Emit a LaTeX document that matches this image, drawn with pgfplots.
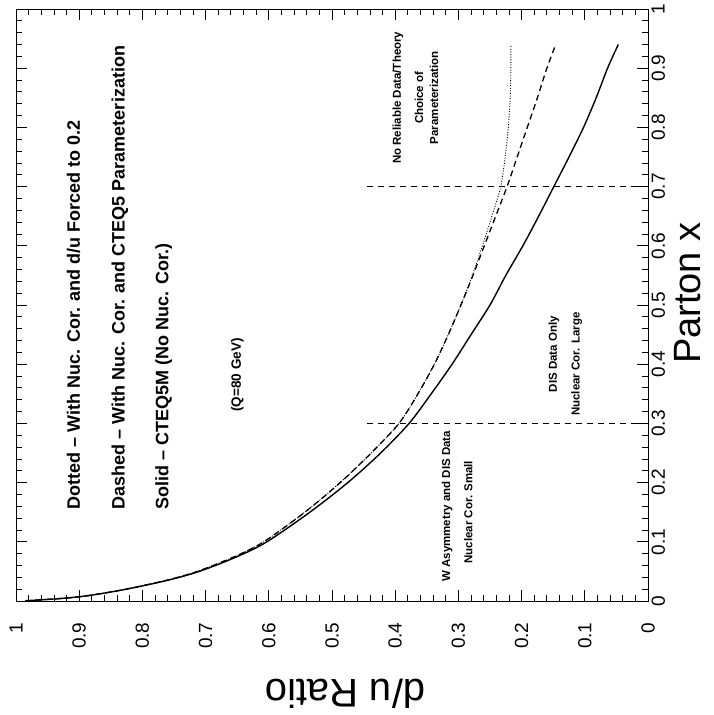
\documentclass[border=0pt]{standalone}
\usepackage{pgfplots}
\pgfplotsset{compat=1.18}
\usepackage{fontspec}
\setmainfont{Liberation Sans}
\begin{document}
\begin{tikzpicture}
\begin{axis}[
  width=632pt, height=592pt, scale only axis,
  x dir=reverse, xmin=0, xmax=1, ymin=0, ymax=1,
  xtick={0,0.1,0.2,0.3,0.4,0.5,0.6,0.7,0.8,0.9,1},
  xticklabels={0,0.1,0.2,0.3,0.4,0.5,0.6,0.7,0.8,0.9,1},
  ytick={0,0.1,0.2,0.3,0.4,0.5,0.6,0.7,0.8,0.9,1},
  yticklabels={0,0.1,0.2,0.3,0.4,0.5,0.6,0.7,0.8,0.9,1},
  minor tick num=4,
  tick align=inside,
  major tick length=11pt, minor tick length=6pt,
  tick style={black, line width=0.8pt},
  axis line style={black, line width=0.9pt},
  yticklabel pos=right,
  xticklabel style={rotate=90, anchor=east, font=\fontsize{19}{19}\selectfont, xshift=-18pt},
  yticklabel style={rotate=90, anchor=north, font=\fontsize{19}{19}\selectfont, yshift=0pt},
  clip=false,
]
% Solid - CTEQ5M
\addplot[black, line width=1.4pt, smooth] table {
r x
0.985 0.0005
0.975 0.001
0.92 0.005
0.88 0.01
0.825 0.02
0.76 0.035
0.71 0.05
0.65 0.075
0.603 0.1
0.535 0.15
0.475 0.2
0.423 0.25
0.378 0.3
0.343 0.35
0.31 0.4
0.28 0.45
0.25 0.5
0.225 0.55
0.198 0.6
0.173 0.65
0.149 0.7
0.125 0.75
0.102 0.8
0.082 0.85
0.064 0.9
0.047 0.94
};
% Dashed - with nuc cor, CTEQ5 param
\addplot[black, line width=1.3pt, smooth, dash pattern=on 6pt off 4pt] table {
r x
0.985 0.0005
0.975 0.001
0.92 0.005
0.88 0.01
0.826 0.02
0.762 0.035
0.713 0.05
0.654 0.075
0.608 0.1
0.543 0.15
0.487 0.2
0.438 0.25
0.394 0.3
0.364 0.35
0.338 0.4
0.316 0.45
0.296 0.5
0.277 0.55
0.259 0.6
0.241 0.65
0.223 0.7
0.207 0.75
0.191 0.8
0.175 0.85
0.16 0.9
0.146 0.94
};
% Dotted - forced to 0.2
\addplot[black, line width=0.9pt, smooth, dash pattern=on 1pt off 1.6pt] table {
r x
0.985 0.0005
0.975 0.001
0.92 0.005
0.88 0.01
0.826 0.02
0.762 0.035
0.713 0.05
0.654 0.075
0.608 0.1
0.543 0.15
0.487 0.2
0.438 0.25
0.394 0.3
0.364 0.35
0.338 0.4
0.316 0.45
0.296 0.5
0.278 0.55
0.262 0.6
0.247 0.65
0.233 0.7
0.226 0.75
0.221 0.8
0.218 0.85
0.217 0.9
0.217 0.94
};
% region boundaries
\addplot[black, line width=1.2pt, dash pattern=on 6pt off 5pt] coordinates {(0.445,0.3) (0,0.3)};
\addplot[black, line width=1.2pt, dash pattern=on 6pt off 5pt] coordinates {(0.445,0.7) (0,0.7)};
% legend-like texts
\node[rotate=90, anchor=base west, font=\fontsize{18}{18}\selectfont\bfseries] at (axis cs:0.899,0.149) {Dotted -- With Nuc. Cor. and d/u Forced to 0.2};
\node[rotate=90, anchor=base west, font=\fontsize{18}{18}\selectfont\bfseries] at (axis cs:0.828,0.149) {Dashed -- With Nuc. Cor. and CTEQ5 Parameterization};
\node[rotate=90, anchor=base west, font=\fontsize{18}{18}\selectfont\bfseries] at (axis cs:0.759,0.149) {Solid -- CTEQ5M (No Nuc. Cor.)};
\node[rotate=90, anchor=base west, font=\fontsize{13.5}{13.5}\selectfont\bfseries] at (axis cs:0.644,0.314) {(Q=80 GeV)};
% region texts
\node[rotate=90, anchor=base, font=\fontsize{11.5}{11.5}\selectfont\bfseries] at (axis cs:0.313,0.16) {W Asymmetry and DIS Data};
\node[rotate=90, anchor=base, font=\fontsize{11.5}{11.5}\selectfont\bfseries] at (axis cs:0.278,0.15) {Nuclear Cor. Small};
\node[rotate=90, anchor=base, font=\fontsize{11.5}{11.5}\selectfont\bfseries] at (axis cs:0.144,0.417) {DIS Data Only};
\node[rotate=90, anchor=base, font=\fontsize{11.5}{11.5}\selectfont\bfseries] at (axis cs:0.108,0.40) {Nuclear Cor. Large};
\node[rotate=90, anchor=base, font=\fontsize{11.5}{11.5}\selectfont\bfseries] at (axis cs:0.391,0.85) {No Reliable Data/Theory};
\node[rotate=90, anchor=base, font=\fontsize{11.5}{11.5}\selectfont\bfseries] at (axis cs:0.356,0.85) {Choice of};
\node[rotate=90, anchor=base, font=\fontsize{11.5}{11.5}\selectfont\bfseries] at (axis cs:0.332,0.85) {Parameterization};
% axis titles
\node[rotate=90, anchor=base, inner sep=0pt, font=\fontsize{38}{38}\selectfont] at (axis cs:-0.0823,0.52) {Parton x};
\node[rotate=180, anchor=base, font=\fontsize{40}{40}\selectfont] at (axis cs:0.479,-0.1334) {d/u Ratio};
\end{axis}
\pgfresetboundingbox
\path[use as bounding box] (-16pt,-114pt) rectangle (697pt,601pt);
\end{tikzpicture}
\end{document}
